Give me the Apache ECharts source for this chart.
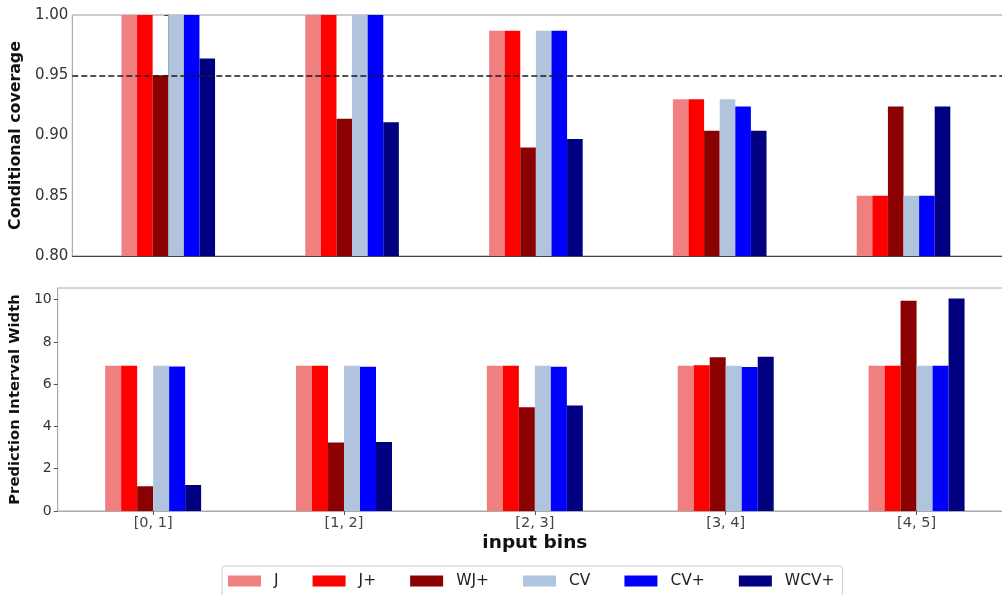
<!DOCTYPE html>
<html>
<head>
<meta charset="utf-8">
<script src="https://cdn.jsdelivr.net/npm/echarts@6/dist/echarts.min.js"></script>
<style>html,body{margin:0;padding:0;background:#fff;overflow:hidden;}#c{width:1030px;height:595px;}</style>
</head>
<body>
<div id="c"></div>
<script>
const bins = ['[0, 1]', '[1, 2]', '[2, 3]', '[3, 4]', '[4, 5]'];
const methods = ['J', 'J+', 'WJ+', 'CV', 'CV+', 'WCV+'];
const colors = ['#F08080', '#FF0000', '#8B0000', '#B0C4DE', '#0000FF', '#000080'];

// Conditional coverage per bin
const covJ    = [1.000, 1.000, 0.987, 0.930, 0.850];
const covJp   = [1.000, 1.000, 0.987, 0.930, 0.850];
const covWJp  = [0.950, 0.914, 0.890, 0.904, 0.924];
const covCV   = [1.000, 1.000, 0.987, 0.930, 0.850];
const covCVp  = [1.000, 1.000, 0.987, 0.924, 0.850];
const covWCVp = [0.964, 0.911, 0.897, 0.904, 0.924];

// Prediction interval width per bin
const widJ    = [6.87, 6.87, 6.87, 6.87, 6.87];
const widJp   = [6.87, 6.87, 6.87, 6.90, 6.87];
const widWJp  = [1.17, 3.24, 4.91, 7.27, 9.95];
const widCV   = [6.87, 6.87, 6.87, 6.87, 6.87];
const widCVp  = [6.84, 6.82, 6.82, 6.81, 6.87];
const widWCVp = [1.23, 3.27, 4.99, 7.30, 10.05];

const targetCoverage = 0.95;
const covTicks = [0.80, 0.85, 0.90, 0.95, 1.00];

const covData = [covJ, covJp, covWJp, covCV, covCVp, covWCVp];
const widData = [widJ, widJp, widWJp, widCV, widCVp, widWCVp];

const FONT = 'DejaVu Sans';
const chart = echarts.init(document.getElementById('c'), null, {renderer: 'canvas'});

const series = [];
methods.forEach((m, k) => {
  const s = {
    name: m, type: 'bar', xAxisIndex: 0, yAxisIndex: 0,
    data: covData[k].map((v, i) => [i, v]),
    barWidth: 15.6, barGap: '0%',
    itemStyle: {color: colors[k]},
    emphasis: {disabled: true}, animation: false
  };
  if (k === 0) {
    s.markLine = {
      silent: true, symbol: ['none', 'none'], label: {show: false},
      lineStyle: {color: '#1a1a1a', type: [6, 3], width: 1.5},
      data: [{yAxis: targetCoverage}]
    };
  }
  series.push(s);
});
methods.forEach((m, k) => {
  series.push({
    name: m, type: 'bar', xAxisIndex: 1, yAxisIndex: 1,
    data: widData[k],
    barWidth: 16, barGap: '0%',
    itemStyle: {color: colors[k]},
    emphasis: {disabled: true}, animation: false
  });
});

chart.setOption({
  animation: false,
  textStyle: {fontFamily: FONT},
  grid: [
    {left: 70, top: 15, width: 937, height: 241, show: true, borderColor: '#999', borderWidth: 1, backgroundColor: 'transparent'},
    {left: 53, top: 288, width: 959, height: 223, show: true, borderColor: '#aaa', borderWidth: 1, backgroundColor: 'transparent'}
  ],
  xAxis: [
    {type: 'value', gridIndex: 0, min: -0.522, max: 4.563,
     axisLine: {show: true, onZero: false, lineStyle: {color: '#444', width: 1}},
     axisTick: {show: false}, axisLabel: {show: false}, splitLine: {show: false}},
    {type: 'category', gridIndex: 1, data: bins, boundaryGap: true,
     axisLine: {show: true, lineStyle: {color: '#aaa', width: 1}},
     axisTick: {show: true, alignWithLabel: true, length: 4, lineStyle: {color: '#555'}},
     axisLabel: {fontSize: 14.5, color: '#444', margin: 5, fontFamily: FONT},
     name: 'input bins', nameLocation: 'middle', nameGap: 23,
     nameTextStyle: {fontSize: 18.5, fontWeight: 'bold', color: '#111', fontFamily: FONT, verticalAlign: 'top'}}
  ],
  yAxis: [
    {type: 'value', gridIndex: 0, min: 0.8, max: 1.0, interval: 0.05,
     axisLine: {show: true, lineStyle: {color: '#666', width: 1}},
     axisTick: {show: true, length: 4, lineStyle: {color: '#444'}},
     axisLabel: {fontSize: 15, color: '#333', margin: 4, fontFamily: FONT,
       formatter: v => { const t = covTicks.find(x => Math.abs(x - v) < 1e-6); return t === undefined ? '' : t.toFixed(2); }},
     splitLine: {show: false},
     name: 'Conditional coverage', nameLocation: 'middle', nameGap: 44,
     nameTextStyle: {fontSize: 15.8, fontWeight: 'bold', color: '#111', fontFamily: FONT}},
    {type: 'value', gridIndex: 1, min: 0, max: 10.55, interval: 2,
     axisLine: {show: true, lineStyle: {color: '#aaa', width: 1}},
     axisTick: {show: true, length: 4, lineStyle: {color: '#555'}},
     axisLabel: {fontSize: 14, color: '#333', margin: 6, fontFamily: FONT, showMaxLabel: false},
     splitLine: {show: false},
     name: 'Prediction Interval Width', nameLocation: 'middle', nameGap: 28,
     nameTextStyle: {fontSize: 14.8, fontWeight: 'bold', color: '#111', fontFamily: FONT}}
  ],
  legend: {
    data: methods, left: 222, top: 566,
    padding: [7, 8, 8, 6],
    itemWidth: 33, itemHeight: 11, itemGap: 34,
    icon: 'rect',
    backgroundColor: '#fff', borderColor: '#ccc', borderWidth: 1, borderRadius: 3,
    textStyle: {fontSize: 15.5, color: '#222', fontFamily: FONT, padding: [0, 0, 0, 8]}
  },
  series: series
});
</script>
</body>
</html>
